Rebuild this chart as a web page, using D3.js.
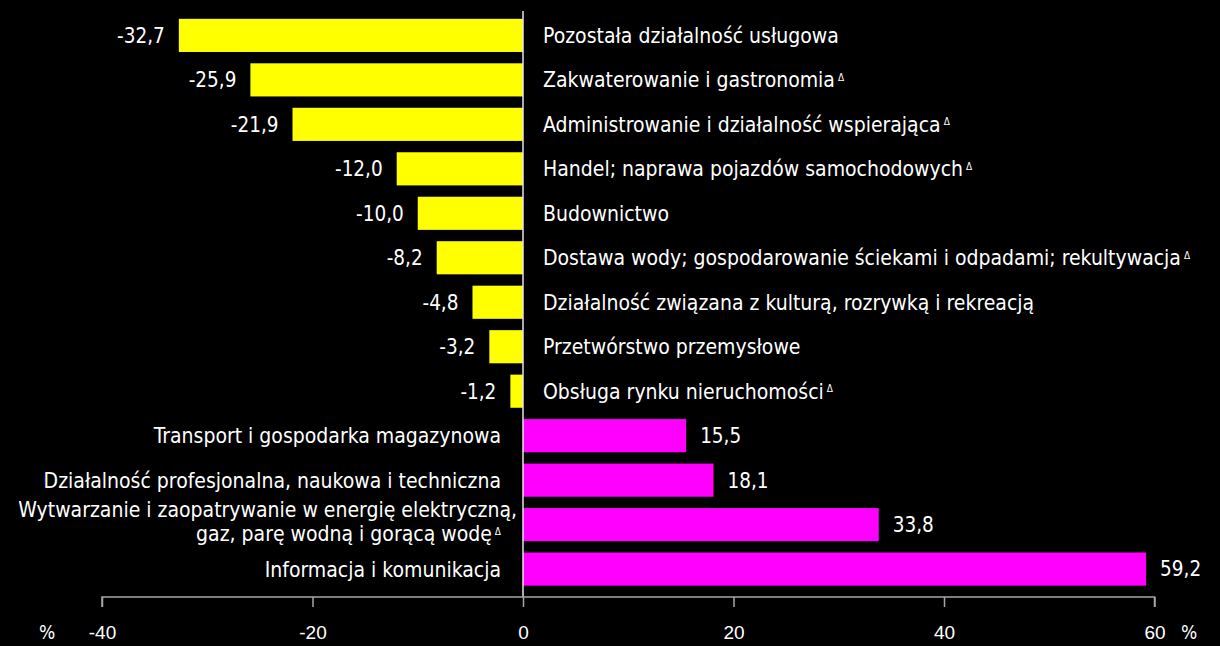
<!DOCTYPE html>
<html><head><meta charset="utf-8">
<script src="https://cdn.jsdelivr.net/npm/d3@7"></script>
<style>
html,body{margin:0;padding:0;background:#000;}
svg{display:block;font-family:"DejaVu Sans Condensed","DejaVu Sans",sans-serif;font-stretch:condensed;}
</style></head><body>
<svg id="chart" width="1220" height="646"></svg>
<script>
const categories = [
  ["Pozostała działalność usługowa"],
  ["Zakwaterowanie i gastronomia"],
  ["Administrowanie i działalność wspierająca"],
  ["Handel; naprawa pojazdów samochodowych"],
  ["Budownictwo"],
  ["Dostawa wody; gospodarowanie ściekami i odpadami; rekultywacja"],
  ["Działalność związana z kulturą, rozrywką i rekreacją"],
  ["Przetwórstwo przemysłowe"],
  ["Obsługa rynku nieruchomości"],
  ["Transport i gospodarka magazynowa"],
  ["Działalność profesjonalna, naukowa i techniczna"],
  ["Wytwarzanie i zaopatrywanie w energię elektryczną,", "gaz, parę wodną i gorącą wodę"],
  ["Informacja i komunikacja"]
];
const deltaMark = [false, true, true, true, false, true, false, false, true, false, false, true, false];
const values = [-32.7, -25.9, -21.9, -12.0, -10.0, -8.2, -4.8, -3.2, -1.2, 15.5, 18.1, 33.8, 59.2];
const tickValues = [-40, -20, 0, 20, 40, 60];
const unitLabel = "%";

const svg = d3.select("#chart");
const x = d3.scaleLinear().domain([-40, 60]).range([102, 1154.5]);
const idx = d3.range(values.length);
const y = d3.scaleBand().domain(idx).range([13.5, 591]).paddingInner(0.255).paddingOuter(0.12);
const fsCat = 21, fsVal = 20.5, fsTick = 19;
const fmt = v => d3.format(".1f")(v).replace(".", ",").replace("\u2212", "-");

// bars
svg.append("g").selectAll("rect").data(idx).join("rect")
  .attr("x", i => Math.min(x(0), x(values[i])))
  .attr("width", i => Math.abs(x(values[i]) - x(0)))
  .attr("y", i => y(i))
  .attr("height", y.bandwidth())
  .attr("fill", i => values[i] < 0 ? "#ffff00" : "#ff00ff");

// zero line
svg.append("line").attr("x1", x(0)).attr("x2", x(0)).attr("y1", 11).attr("y2", 597)
  .attr("stroke", "#e6e6e6").attr("stroke-width", 1.5);

// axis
const axis = d3.axisBottom(x).tickValues(tickValues).tickSize(10).tickPadding(0).tickFormat(d => String(d));
const ag = svg.append("g").attr("transform", "translate(0,597)").call(axis);
ag.select(".domain").attr("stroke", "#a6a6a6").attr("stroke-width", 1.5).attr("d", `M${x(-40)},10V0H${x(60)}V10`);
ag.selectAll(".tick line").attr("stroke", "#a6a6a6").attr("stroke-width", 1.5);
ag.selectAll(".tick text").attr("fill", "#fff").attr("font-size", fsTick).attr("font-family", null)
  .attr("y", 42).attr("dy", null);
svg.append("text").attr("x", 47).attr("y", 639).attr("fill", "#fff").attr("font-size", fsTick).attr("text-anchor", "middle").text(unitLabel);
svg.append("text").attr("x", 1189).attr("y", 639).attr("fill", "#fff").attr("font-size", fsTick).attr("text-anchor", "middle").text(unitLabel);

// value labels
svg.append("g").selectAll("text").data(idx).join("text")
  .attr("x", i => values[i] < 0 ? x(values[i]) - 14 : x(values[i]) + 14)
  .attr("y", i => y(i) + y.bandwidth() / 2)
  .attr("dy", "0.36em")
  .attr("text-anchor", i => values[i] < 0 ? "end" : "start")
  .attr("fill", "#fff").attr("font-size", fsVal)
  .text(i => fmt(values[i]));

// category labels
const cg = svg.append("g");
idx.forEach(i => {
  const neg = values[i] < 0;
  const lines = categories[i];
  const multi = lines.length > 1;
  const cy = y(i) + y.bandwidth() / 2 - (multi ? 3 : 0);
  const lh = 24;
  lines.forEach((ln, k) => {
    const shift = (multi && k < lines.length - 1) ? 16 : 0;
    const t = cg.append("text")
      .attr("x", neg ? x(0) + 20 : x(0) - 22 + shift)
      .attr("y", cy + (k - (lines.length - 1) / 2) * lh)
      .attr("dy", "0.36em")
      .attr("text-anchor", neg ? "start" : "end")
      .attr("fill", "#fff").attr("font-size", fsCat);
    t.append("tspan").text(ln);
    if (deltaMark[i] && k === lines.length - 1) {
      t.append("tspan").attr("dx", 3).attr("dy", "-0.65em").attr("font-size", 10).text("Δ");
    }
  });
});
</script>
</body></html>
